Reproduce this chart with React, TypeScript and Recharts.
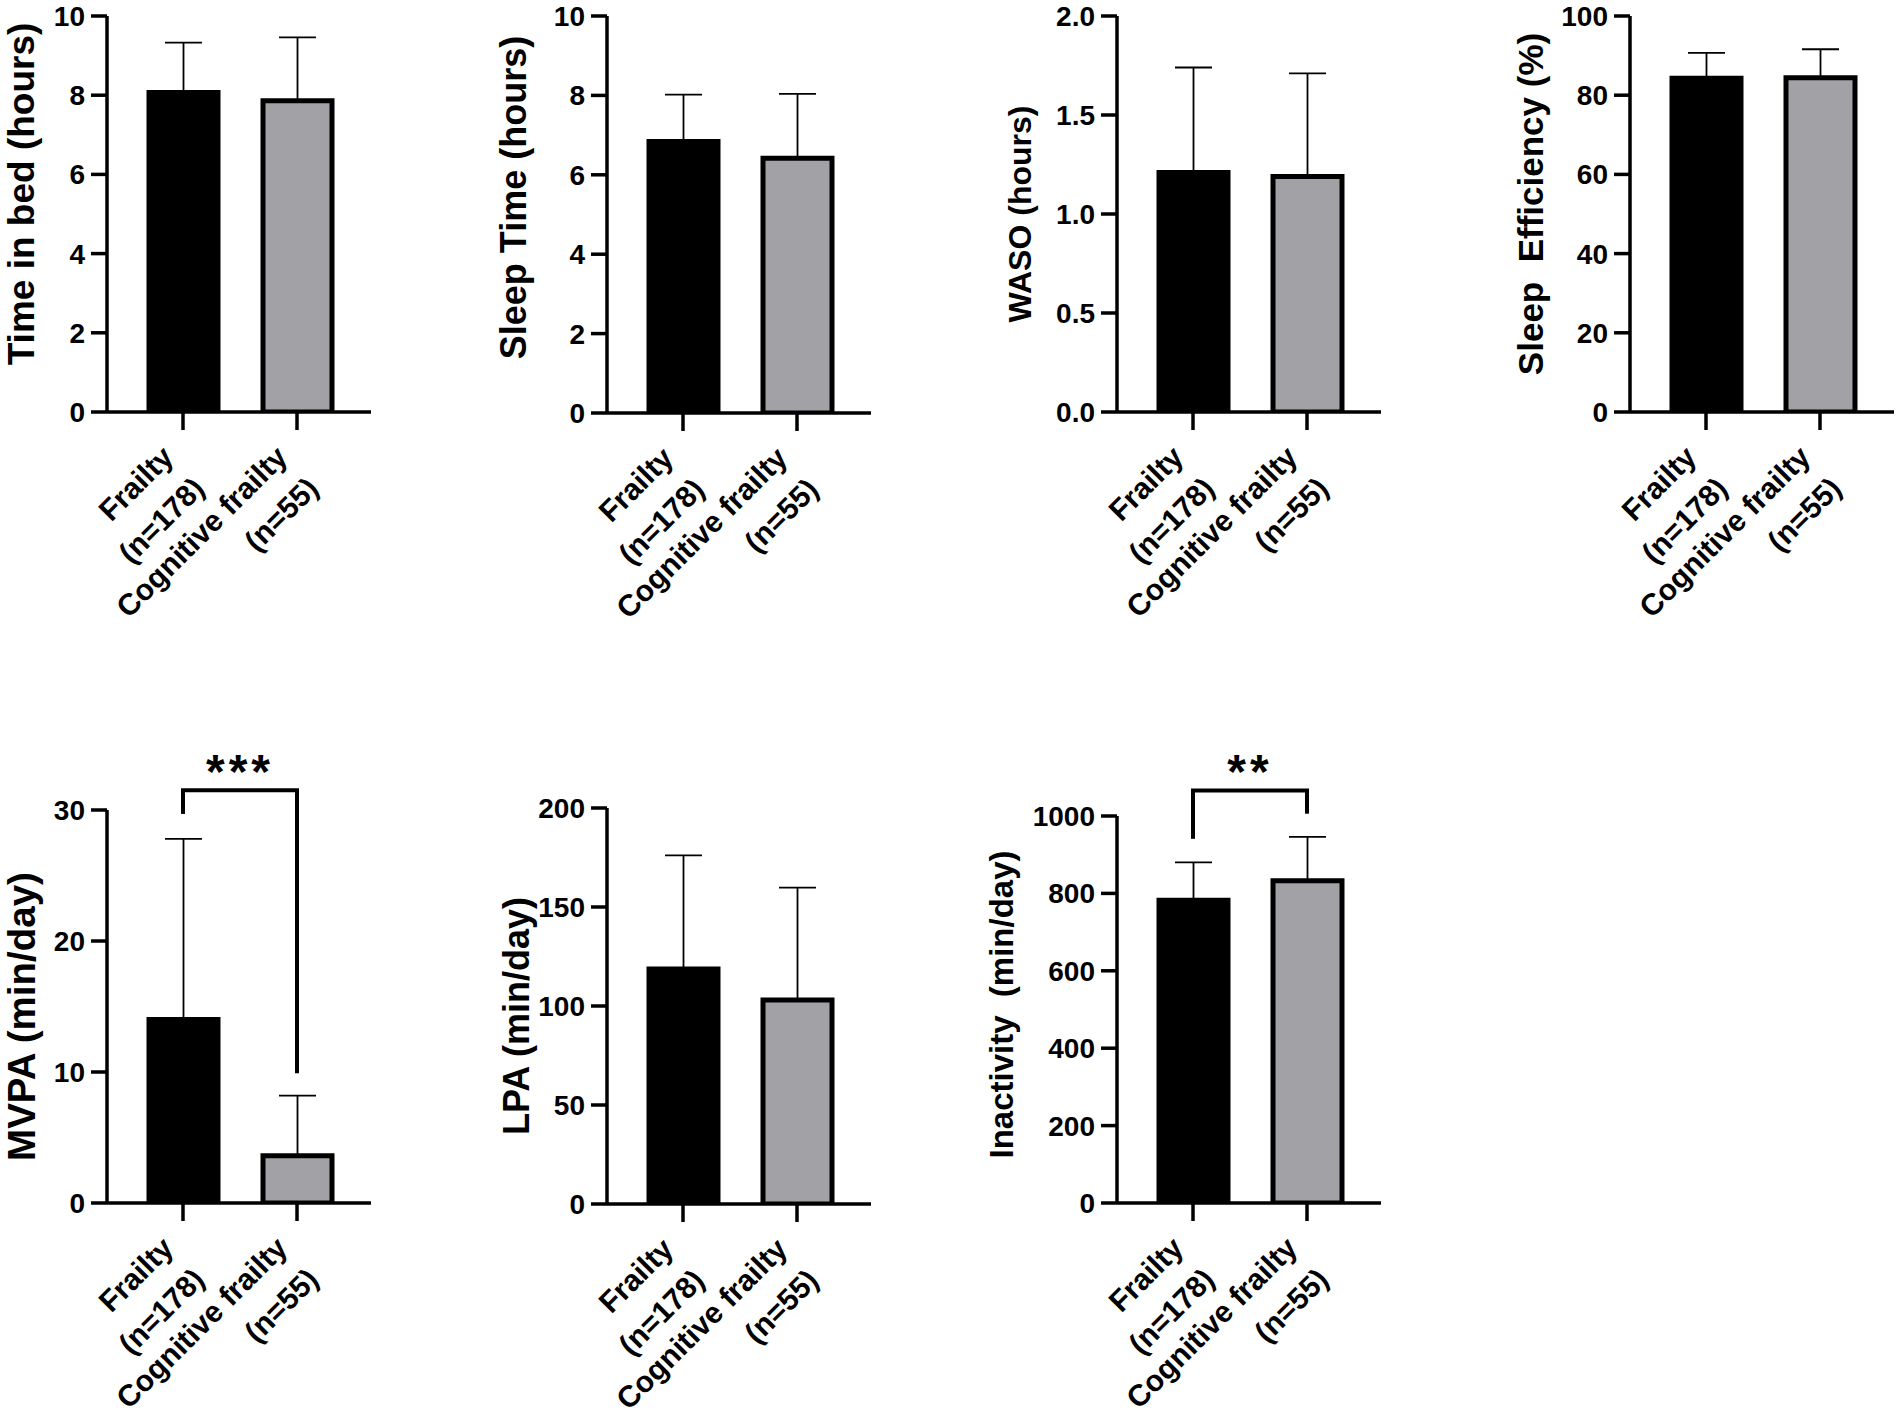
import React from "react";
import {
  Bar,
  BarChart,
  Cell,
  ErrorBar,
  Label,
  ReferenceLine,
  XAxis,
  YAxis,
} from "recharts";

// groups on the x axis (line break = second label line)
const groups = ["Frailty\n(n=178)", "Cognitive frailty\n(n=55)"];

// mean and SD per group
const timeInBedMean = [8.07, 7.86];
const timeInBedSd = [1.26, 1.6];
const sleepTimeMean = [6.84, 6.42];
const sleepTimeSd = [1.18, 1.62];
const wasoMean = [1.21, 1.19];
const wasoSd = [0.53, 0.52];
const efficiencyMean = [84.3, 84.4];
const efficiencySd = [6.4, 7.2];
const mvpaMean = [14.0, 3.6];
const mvpaSd = [13.8, 4.6];
const lpaMean = [118.7, 103.0];
const lpaSd = [57.4, 56.8];
const inactivityMean = [782, 833];
const inactivitySd = [98, 113];

// y axis ticks
const hourTicks = [0, 2, 4, 6, 8, 10];
const wasoTicks = [0, 0.5, 1, 1.5, 2];
const percentTicks = [0, 20, 40, 60, 80, 100];
const mvpaTicks = [0, 10, 20, 30];
const lpaTicks = [0, 50, 100, 150, 200];
const inactivityTicks = [0, 200, 400, 600, 800, 1000];

// significance brackets: [left leg end, right leg end, bracket top]
const mvpaBracket = [29.7, 9.9, 31.5];
const inactivityBracket = [941, 1006, 1066];

const FONT = "'Liberation Sans', Arial, Helvetica, sans-serif";
const GREY = "#a2a2a6";

const AXIS_W = 150;
const PLOT_W = 264;
const RIGHT = 30;
const TOP = 90;
const X_AXIS_H = 300;

type Panel = {
  title: string;
  mean: number[];
  sd: number[];
  ticks: number[];
  decimals?: number;
  bracket?: number[];
  stars?: string;
  axisX: number;
  plotTop: number;
  plotH: number;
  labelSize: number;
  labelGap: number;
  labelShift: number;
};

function GroupTick(props: any) {
  const { x, y, payload } = props;
  const lines = String(payload.value).split("\n");
  return (
    <g transform={`translate(${x - 8},${y + 27})`}>
      <text
        transform="rotate(-45)"
        textAnchor="end"
        fontSize={30}
        fontWeight="bold"
        fontFamily={FONT}
        fill="#000"
      >
        {lines.map((line, i) => (
          <tspan key={i} x={0} dy={i === 0 ? 0 : 44}>
            {line}
          </tspan>
        ))}
      </text>
    </g>
  );
}

function BarPanel({ p }: { p: Panel }) {
  const data = groups.map((g, i) => ({
    group: g,
    value: p.mean[i],
    err: [0, p.sd[i]],
  }));
  const max = p.ticks[p.ticks.length - 1];
  const height = TOP + p.plotH + X_AXIS_H;
  const labelX = AXIS_W - p.labelGap;
  const labelY = TOP + p.plotH / 2 + p.labelShift;

  return (
    <div
      style={{
        position: "absolute",
        left: p.axisX - AXIS_W,
        top: p.plotTop - TOP,
      }}
    >
      <BarChart
        width={AXIS_W + PLOT_W + RIGHT}
        height={height}
        data={data}
        margin={{ top: TOP, right: RIGHT, bottom: 0, left: 0 }}
      >
        <XAxis
          dataKey="group"
          interval={0}
          height={X_AXIS_H}
          padding={{ left: 19, right: 17 }}
          axisLine={{ stroke: "#000", strokeWidth: 3.5 }}
          tickLine={{ stroke: "#000", strokeWidth: 3.5 }}
          tickSize={18}
          tick={<GroupTick />}
        />
        <YAxis
          width={AXIS_W}
          domain={[0, max]}
          ticks={p.ticks}
          interval={0}
          allowDataOverflow
          axisLine={{ stroke: "#000", strokeWidth: 3.5 }}
          tickLine={{ stroke: "#000", strokeWidth: 3.5 }}
          tickSize={16}
          tickMargin={6}
          tickFormatter={(v: number) => v.toFixed(p.decimals ?? 0)}
          tick={{
            fontSize: 28,
            fontWeight: "bold",
            fontFamily: FONT,
            fill: "#000",
          }}
        >
          <Label
            content={() => (
              <text
                x={labelX}
                y={labelY}
                transform={`rotate(-90, ${labelX}, ${labelY})`}
                textAnchor="middle"
                dominantBaseline="central"
                fontSize={p.labelSize}
                fontWeight="bold"
                fontFamily={FONT}
                fill="#000"
                style={{ whiteSpace: "pre" }}
              >
                {p.title}
              </text>
            )}
          />
        </YAxis>
        <Bar
          dataKey="value"
          barSize={69}
          stroke="#000"
          strokeWidth={5}
          isAnimationActive={false}
        >
          <Cell fill="#000" />
          <Cell fill={GREY} />
          <ErrorBar
            dataKey="err"
            direction="y"
            width={18.5}
            stroke="#000"
            strokeWidth={1.8}
            isAnimationActive={false}
          />
        </Bar>
        {p.bracket && (
          <ReferenceLine
            ifOverflow="visible"
            stroke="#000"
            strokeWidth={4}
            segment={[
              { x: groups[0], y: p.bracket[0] },
              { x: groups[0], y: p.bracket[2] },
            ]}
          />
        )}
        {p.bracket && (
          <ReferenceLine
            ifOverflow="visible"
            stroke="#000"
            strokeWidth={4}
            segment={[
              { x: groups[1], y: p.bracket[1] },
              { x: groups[1], y: p.bracket[2] },
            ]}
          />
        )}
        {p.bracket && (
          <ReferenceLine
            ifOverflow="visible"
            stroke="#000"
            strokeWidth={4}
            strokeLinecap="square"
            segment={[
              { x: groups[0], y: p.bracket[2] },
              { x: groups[1], y: p.bracket[2] },
            ]}
            label={{
              content: (lp: any) => {
                const vb = lp.viewBox || {};
                return (
                  <text
                    x={vb.x + vb.width / 2}
                    y={vb.y - 2}
                    textAnchor="middle"
                    fontSize={48}
                    fontWeight="bold"
                    fontFamily={FONT}
                    letterSpacing={4}
                    fill="#000"
                  >
                    {p.stars}
                  </text>
                );
              },
            }}
          />
        )}
      </BarChart>
    </div>
  );
}

const panels: Panel[] = [
  { title: "Time in bed (hours)", mean: timeInBedMean, sd: timeInBedSd, ticks: hourTicks, axisX: 107, plotTop: 16, plotH: 396, labelSize: 37, labelGap: 86, labelShift: -20 },
  { title: "Sleep Time (hours)", mean: sleepTimeMean, sd: sleepTimeSd, ticks: hourTicks, axisX: 607, plotTop: 16, plotH: 397, labelSize: 36, labelGap: 94, labelShift: -17 },
  { title: "WASO (hours)", mean: wasoMean, sd: wasoSd, ticks: wasoTicks, decimals: 1, axisX: 1117, plotTop: 16, plotH: 396, labelSize: 32, labelGap: 97, labelShift: 0 },
  { title: "Sleep  Efficiency (%)", mean: efficiencyMean, sd: efficiencySd, ticks: percentTicks, axisX: 1630, plotTop: 16, plotH: 396, labelSize: 35, labelGap: 100, labelShift: -10 },
  { title: "MVPA (min/day)", mean: mvpaMean, sd: mvpaSd, ticks: mvpaTicks, bracket: mvpaBracket, stars: "***", axisX: 107, plotTop: 810, plotH: 393, labelSize: 38.5, labelGap: 86, labelShift: 10 },
  { title: "LPA (min/day)", mean: lpaMean, sd: lpaSd, ticks: lpaTicks, axisX: 607, plotTop: 808, plotH: 396, labelSize: 36, labelGap: 91, labelShift: 10 },
  { title: "Inactivity  (min/day)", mean: inactivityMean, sd: inactivitySd, ticks: inactivityTicks, bracket: inactivityBracket, stars: "**", axisX: 1117, plotTop: 816, plotH: 387, labelSize: 33, labelGap: 116, labelShift: -5 },
];

export default function App() {
  return (
    <div
      style={{
        position: "absolute",
        left: 0,
        top: 0,
        width: 1902,
        height: 1416,
        background: "#fff",
        overflow: "hidden",
      }}
    >
      {panels.map((p) => (
        <BarPanel key={p.title} p={p} />
      ))}
    </div>
  );
}
